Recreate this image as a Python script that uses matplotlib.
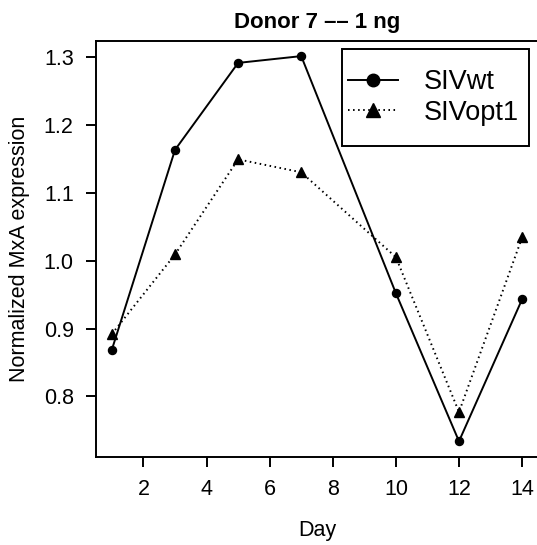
import matplotlib
matplotlib.use("Agg")
import matplotlib.pyplot as plt
from matplotlib.patches import Rectangle

days = [1, 3, 5, 7, 10, 12, 14]
siv_wt = [0.869, 1.163, 1.291, 1.301, 0.952, 0.734, 0.943]
siv_opt1 = [0.892, 1.009, 1.149, 1.130, 1.005, 0.777, 1.034]
xticks = [2, 4, 6, 8, 10, 12, 14]
yticks = [0.8, 0.9, 1.0, 1.1, 1.2, 1.3]

plt.rcParams['font.family'] = ['Liberation Sans', 'DejaVu Sans']

W, H = 537, 545
fig = plt.figure(figsize=(W / 100, H / 100), dpi=100)
left, right, top, bottom = 95.5, 538.5, 40.7, 456.7
ax = fig.add_axes([left / W, 1 - bottom / H, (right - left) / W, (bottom - top) / H])

LW = 1.4
ax.plot(days, siv_wt, color='black', lw=LW, marker='o', ms=5.8, label='SIVwt')
ax.plot(days, siv_opt1, color='black', lw=LW, ls=(0, (0.8, 1.8)), marker='^', ms=6.8,
        label='SIVopt1')

xr = max(days) - min(days)
ax.set_xlim(min(days) - 0.04 * xr, max(days) + 0.04 * xr)
allv = siv_wt + siv_opt1
yr = max(allv) - min(allv)
ax.set_ylim(min(allv) - 0.04 * yr, max(allv) + 0.04 * yr)

ax.set_xticks(xticks)
ax.set_yticks(yticks)
ax.set_yticklabels([f"{v:.1f}" for v in yticks])
ax.tick_params(axis='both', length=7.2, width=LW, labelsize=15.5, pad=8.5, direction='out')
for s in ax.spines.values():
    s.set_linewidth(LW)

ax.set_title('Donor 7 –– 1 ng', fontsize=16, fontweight='bold', pad=9.5)
ax.set_xlabel('Day', fontsize=15.5, labelpad=15)
ax.set_ylabel('Normalized MxA expression', fontsize=15.5, labelpad=9.5)

leg = ax.legend(loc='upper left', bbox_to_anchor=(348 / W, 1 - 69 / H),
                bbox_transform=fig.transFigure, borderaxespad=0, borderpad=0,
                frameon=False, fontsize=19.5, handlelength=1.85, handletextpad=0.93,
                labelspacing=0.17, markerscale=1.55)
leg.set_zorder(6)
frame = Rectangle((342.3 / W, 1 - 145.7 / H), 187 / W, 96.4 / H,
                  transform=fig.transFigure, facecolor='white', edgecolor='black',
                  lw=LW, zorder=5, clip_on=False)
ax.add_artist(frame)

fig.savefig('out.png', dpi=100)
